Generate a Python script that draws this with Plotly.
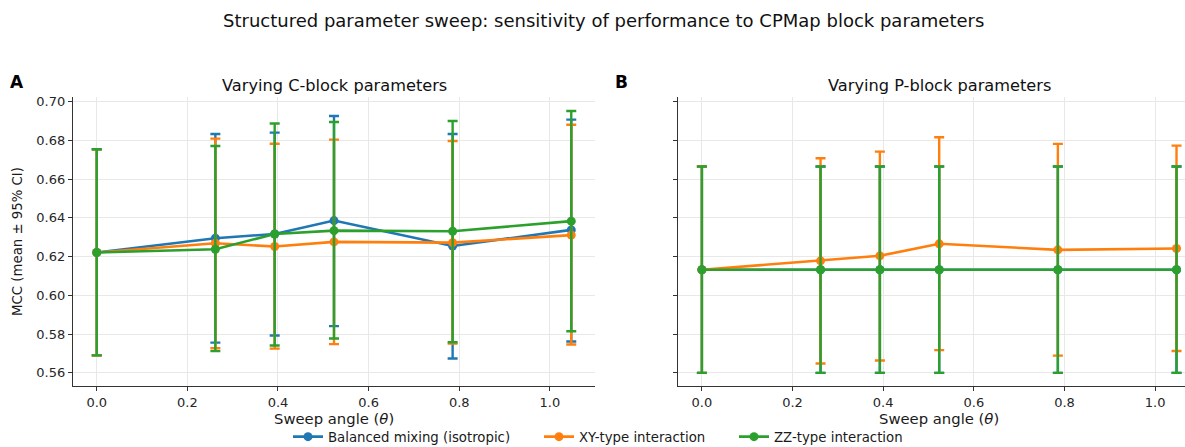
import plotly.graph_objects as go
import math

W, H = 1185, 447

# sweep angles (radians)
theta = [0.0, math.pi / 12, math.pi / 8, math.pi / 6, math.pi / 4, math.pi / 3]

series_names = ["Balanced mixing (isotropic)", "XY-type interaction", "ZZ-type interaction"]
colors = ["#1f77b4", "#ff7f0e", "#2ca02c"]

# Panel A: varying C-block parameters
A_mean = {
    "Balanced mixing (isotropic)": [0.6221, 0.6295, 0.6317, 0.6386, 0.6255, 0.6338],
    "XY-type interaction":         [0.6221, 0.6269, 0.6252, 0.6276, 0.6272, 0.6311],
    "ZZ-type interaction":         [0.6221, 0.6238, 0.6317, 0.6334, 0.6331, 0.6383],
}
A_low = {
    "Balanced mixing (isotropic)": [0.5690, 0.5756, 0.5793, 0.5841, 0.5674, 0.5762],
    "XY-type interaction":         [0.5690, 0.5727, 0.5725, 0.5748, 0.5751, 0.5746],
    "ZZ-type interaction":         [0.5690, 0.5712, 0.5741, 0.5777, 0.5758, 0.5815],
}
A_high = {
    "Balanced mixing (isotropic)": [0.6754, 0.6833, 0.6840, 0.6926, 0.6833, 0.6907],
    "XY-type interaction":         [0.6754, 0.6809, 0.6783, 0.6804, 0.6797, 0.6881],
    "ZZ-type interaction":         [0.6754, 0.6771, 0.6887, 0.6895, 0.6900, 0.6952],
}

# Panel B: varying P-block parameters
B_mean = {
    "Balanced mixing (isotropic)": [0.6132, 0.6132, 0.6132, 0.6132, 0.6132, 0.6132],
    "XY-type interaction":         [0.6132, 0.6178, 0.6204, 0.6266, 0.6235, 0.6242],
    "ZZ-type interaction":         [0.6132, 0.6132, 0.6132, 0.6132, 0.6132, 0.6132],
}
B_low = {
    "Balanced mixing (isotropic)": [0.5600, 0.5600, 0.5600, 0.5600, 0.5600, 0.5600],
    "XY-type interaction":         [0.5600, 0.5648, 0.5664, 0.5717, 0.5689, 0.5713],
    "ZZ-type interaction":         [0.5600, 0.5600, 0.5600, 0.5600, 0.5600, 0.5600],
}
B_high = {
    "Balanced mixing (isotropic)": [0.6665, 0.6665, 0.6665, 0.6665, 0.6665, 0.6665],
    "XY-type interaction":         [0.6665, 0.6708, 0.6742, 0.6816, 0.6782, 0.6773],
    "ZZ-type interaction":         [0.6665, 0.6665, 0.6665, 0.6665, 0.6665, 0.6665],
}

y_ticks = [0.56, 0.58, 0.60, 0.62, 0.64, 0.66, 0.68, 0.70]
x_ticks = [0.0, 0.2, 0.4, 0.6, 0.8, 1.0]

FONT = "DejaVu Sans"
legend_ids = ["legend", "legend2", "legend3"]
legend_left_px = [288, 539, 734]

fig = go.Figure()

for panel, (means, lows, highs, xa, ya) in enumerate([
    (A_mean, A_low, A_high, "x", "y"),
    (B_mean, B_low, B_high, "x2", "y2"),
]):
    for name, col, lg in zip(series_names, colors, legend_ids):
        m = means[name]
        plus = [h - v for h, v in zip(highs[name], m)]
        minus = [v - l for l, v in zip(lows[name], m)]
        fig.add_trace(go.Scatter(
            x=theta, y=m, mode="lines+markers", name=name,
            legendgroup=name, showlegend=(panel == 0), legend=lg,
            line=dict(color=col, width=2.6),
            marker=dict(color=col, size=9),
            error_y=dict(type="data", symmetric=False, array=plus, arrayminus=minus,
                         color=col, thickness=2.4, width=5),
            xaxis=xa, yaxis=ya,
        ))

grid = "#e8e8e8"
axis_common = dict(showgrid=True, gridcolor=grid, gridwidth=1, zeroline=False,
                   showline=True, linecolor="#333333", linewidth=1.2,
                   ticks="outside", ticklen=4, tickcolor="#333333", tickwidth=1.2,
                   tickfont=dict(family=FONT, size=13, color="#262626"),
                   automargin=False)

ydom = [1 - 386 / H, 1 - 97 / H]
yrange = [0.5532, 0.7024]

legend_common = dict(orientation="h", y=10 / H, yanchor="middle", xanchor="left",
                     font=dict(family=FONT, size=13.3, color="#1a1a1a"),
                     bgcolor="rgba(0,0,0,0)", borderwidth=0)

fig.update_layout(
    width=W, height=H,
    margin=dict(l=0, r=0, t=0, b=0, autoexpand=False),
    paper_bgcolor="white", plot_bgcolor="white",
    font=dict(family=FONT, color="#1a1a1a"),
    xaxis=dict(domain=[73 / W, 595 / W], range=[-0.0524, 1.0996], tickvals=x_ticks,
               ticktext=["0.0", "0.2", "0.4", "0.6", "0.8", "1.0"],
               anchor="y", **axis_common),
    yaxis=dict(domain=ydom, range=yrange, tickvals=y_ticks,
               ticktext=[f"{v:.2f}" for v in y_ticks],
               title=dict(text="MCC (mean ± 95% CI)", font=dict(family=FONT, size=13.3), standoff=10),
               anchor="x", **axis_common),
    xaxis2=dict(domain=[678 / W, 1.0], range=[-0.0527, 1.0659], tickvals=x_ticks,
                ticktext=["0.0", "0.2", "0.4", "0.6", "0.8", "1.0"],
                anchor="y2", **axis_common),
    yaxis2=dict(domain=ydom, range=yrange, tickvals=y_ticks, showticklabels=False,
                anchor="x2", **axis_common),
    legend=dict(x=legend_left_px[0] / W, **legend_common),
    legend2=dict(x=legend_left_px[1] / W, **legend_common),
    legend3=dict(x=legend_left_px[2] / W, **legend_common),
    showlegend=True,
)

annotations = [
    dict(text="Structured parameter sweep: sensitivity of performance to CPMap block parameters",
         x=603 / W, y=1 - 20 / H, xref="paper", yref="paper", showarrow=False,
         xanchor="center", yanchor="middle", font=dict(family=FONT, size=18, color="#111111")),
    dict(text="Varying C-block parameters", x=(73 + 595) / 2 / W, y=1 - 85 / H,
         xref="paper", yref="paper", showarrow=False, xanchor="center", yanchor="middle",
         font=dict(family=FONT, size=16.2, color="#111111")),
    dict(text="Varying P-block parameters", x=939 / W, y=1 - 85 / H,
         xref="paper", yref="paper", showarrow=False, xanchor="center", yanchor="middle",
         font=dict(family=FONT, size=16.2, color="#111111")),
    dict(text="Sweep angle (<i>θ</i>)", x=(73 + 595) / 2 / W, y=1 - 418 / H,
         xref="paper", yref="paper", showarrow=False, xanchor="center", yanchor="middle",
         font=dict(family=FONT, size=14.8, color="#1a1a1a")),
    dict(text="Sweep angle (<i>θ</i>)", x=939 / W, y=1 - 418 / H,
         xref="paper", yref="paper", showarrow=False, xanchor="center", yanchor="middle",
         font=dict(family=FONT, size=14.8, color="#1a1a1a")),
    dict(text="<b>A</b>", x=17 / W, y=1 - 82 / H, xref="paper", yref="paper", showarrow=False,
         xanchor="center", yanchor="middle", font=dict(family=FONT, size=17, color="#000000")),
    dict(text="<b>B</b>", x=621 / W, y=1 - 82 / H, xref="paper", yref="paper", showarrow=False,
         xanchor="center", yanchor="middle", font=dict(family=FONT, size=17, color="#000000")),
]
fig.update_layout(annotations=annotations)

fig.write_html("out.html")
